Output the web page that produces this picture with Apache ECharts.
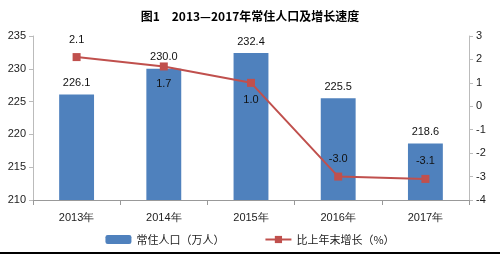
<!DOCTYPE html>
<html>
<head>
<meta charset="utf-8">
<script src="https://cdn.jsdelivr.net/npm/echarts@6/dist/echarts.min.js"></script>
<style>html,body{margin:0;padding:0;background:#fff;}#main{width:500px;height:254px;}</style>
</head>
<body>
<div id="main"></div>
<script>
	var years = ['2013年', '2014年', '2015年', '2016年', '2017年'];
	var population = [226.1, 230.0, 232.4, 225.5, 218.6];
	var growth = [2.1, 1.7, 1.0, -3.0, -3.1];
	var growthLabelPos = ['top', 'bottom', 'bottom', 'top', 'top'];

	var myChart = echarts.init(document.getElementById('main'));

	var option = {
		backgroundColor : '#fff',
		animation : false,
		title : {
			text : '图1　2013—2017年常住人口及增长速度',
			left : 'center',
			top : 5,
			textStyle : {
				fontSize : 12,
				fontWeight : 'bold',
				color : '#000',
				fontFamily : 'Noto Sans CJK SC'
			}
		},
		legend : {
			bottom : 4,
			left : 'center',
			itemGap : 40,
			itemWidth : 26,
			itemHeight : 9,
			textStyle : { fontSize : 11, color : '#222', fontFamily : 'Noto Sans CJK SC' },
			data : [ '常住人口（万人）', '比上年末增长（%）' ]
		},
		grid : {
			left : 33,
			right : 31,
			top : 36,
			bottom : 54
		},
		xAxis : [ {
			type : 'category',
			data : years,
			axisLine : { onZero : false, lineStyle : { color : '#999' } },
			axisTick : { show : true, length : 5, lineStyle : { color : '#999' } },
			axisLabel : { color : '#222', fontSize : 11, margin : 12 }
		} ],
		yAxis : [ {
			type : 'value',
			min : 210,
			max : 235,
			interval : 5,
			splitLine : { show : false },
			axisLine : { show : true, lineStyle : { color : '#bbb' } },
			axisTick : { show : true, inside : false, length : 4, lineStyle : { color : '#bbb' } },
			axisLabel : { color : '#222', fontSize : 11, margin : 7 }
		}, {
			type : 'value',
			min : -4,
			max : 3,
			interval : 1,
			splitLine : { show : false },
			axisLine : { show : true, lineStyle : { color : '#bbb' } },
			axisTick : { show : true, length : 4, lineStyle : { color : '#bbb' } },
			axisLabel : { color : '#222', fontSize : 11, margin : 7 }
		} ],
		series : [ {
			name : '常住人口（万人）',
			type : 'bar',
			barWidth : '40%',
			itemStyle : { color : '#4F81BD' },
			label : {
				show : true,
				position : 'top',
				distance : 6,
				color : '#111',
				fontSize : 11,
				formatter : function (p) { return p.value.toFixed(1); }
			},
			data : population
		}, {
			name : '比上年末增长（%）',
			type : 'line',
			yAxisIndex : 1,
			symbol : 'rect',
			symbolSize : 8,
			itemStyle : { color : '#C0504D' },
			lineStyle : { color : '#C0504D', width : 2 },
			data : growth.map(function (v, i) {
				return {
					value : v,
					label : {
						show : true,
						position : growthLabelPos[i],
						distance : 8,
						color : '#111',
						fontSize : 11,
						formatter : function (p) { return p.value.toFixed(1); }
					}
				};
			})
		} ],
		graphic : [ {
			type : 'rect',
			shape : { x : 0, y : 252, width : 500, height : 2 },
			style : { fill : '#000' }
		} ]
	};
	myChart.setOption(option);
</script>
</body>
</html>
